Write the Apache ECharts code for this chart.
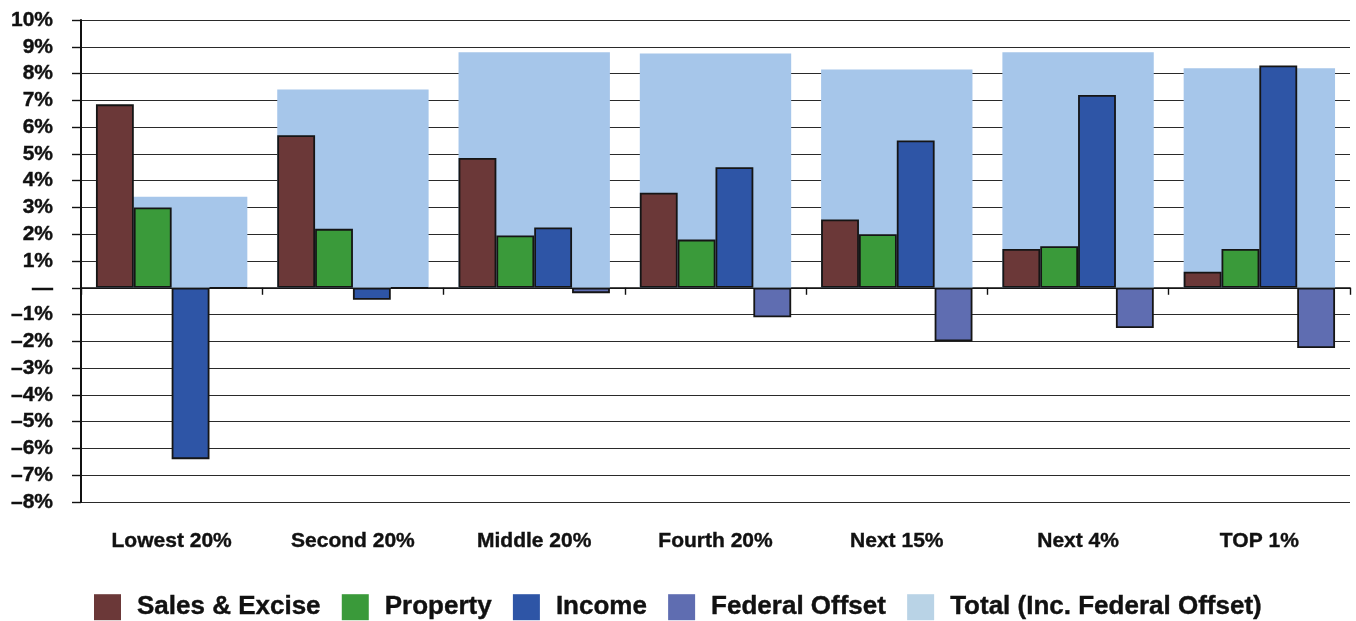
<!DOCTYPE html>
<html>
<head>
<meta charset="utf-8">
<script src="https://cdn.jsdelivr.net/npm/echarts@6/dist/echarts.min.js"></script>
<style>
html,body{margin:0;padding:0;background:#fff;}
#chart{width:1356px;height:621px;}
</style>
</head>
<body>
<div id="chart"></div>
<script>
const categories = ['Lowest 20%','Second 20%','Middle 20%','Fourth 20%','Next 15%','Next 4%','TOP 1%'];
const salesExcise = [6.85, 5.7, 4.85, 3.55, 2.55, 1.45, 0.6];
const property = [3.0, 2.2, 1.95, 1.8, 2.0, 1.55, 1.45];
const income = [-6.4, -0.45, 2.25, 4.5, 5.5, 7.2, 8.3];
const federalOffset = [0, 0, -0.2, -1.1, -2.0, -1.5, -2.25];
const totalIncFederal = [3.4, 7.4, 8.8, 8.75, 8.15, 8.8, 8.2];
const yTickLabels = ['–8%','–7%','–6%','–5%','–4%','–3%','–2%','–1%','—','1%','2%','3%','4%','5%','6%','7%','8%','9%','10%'];
const yMin = -8, yMax = 10;

const FONT = "'Liberation Sans', Arial, sans-serif";
const chart = echarts.init(document.getElementById('chart'), null, {renderer:'canvas'});
const gap = '16.5%';
const border = {borderColor:'#151515', borderWidth:1.8};
const boldText = {fontFamily:FONT, fontWeight:'bold', color:'#111', textBorderColor:'#111', textBorderWidth:0.4};

chart.setOption({
  animation:false,
  backgroundColor:'#fff',
  grid:{left:81, right:6, top:20, bottom:119, containLabel:false},
  legend:{
    left:89, top:589, itemWidth:27, itemHeight:26, itemGap:21,
    icon:'rect',
    itemStyle:{borderWidth:0},
    textStyle:Object.assign({fontSize:26, padding:[0,0,0,11]}, boldText),
    data:['Sales & Excise','Property','Income','Federal Offset',
      {name:'Total (Inc. Federal Offset)', itemStyle:{color:'#b9d3e6', borderWidth:0}}]
  },
  xAxis:[
    {type:'category', data:categories, position:'bottom',
     axisLine:{onZero:true, lineStyle:{color:'#111', width:1.6}},
     axisTick:{show:true, length:7, lineStyle:{color:'#111', width:1.4}},
     axisLabel:{show:false}, splitLine:{show:false}},
    {type:'category', data:categories, show:false},
    {type:'category', data:categories, position:'bottom',
     axisLine:{show:false, onZero:false}, axisTick:{show:false},
     axisLabel:Object.assign({fontSize:21, margin:29}, boldText)}
  ],
  yAxis:{
    type:'value', min:yMin, max:yMax, interval:1,
    axisLine:{show:true, lineStyle:{color:'#111', width:2}},
    axisTick:{show:true, length:9, lineStyle:{color:'#111', width:1.4}},
    splitLine:{show:true, lineStyle:{color:'#2a2a2a', width:1.2}},
    axisLabel:Object.assign({fontSize:21, margin:28,
      formatter:(v)=>yTickLabels[Math.round(v - yMin)]}, boldText)
  },
  series:[
    {name:'Total (Inc. Federal Offset)', type:'bar', xAxisIndex:1, data:totalIncFederal,
     barCategoryGap:gap, z:1, itemStyle:{color:'#a6c6ea'}},
    {name:'Sales & Excise', type:'bar', xAxisIndex:0, data:salesExcise, barGap:'0%', barCategoryGap:gap, z:3,
     itemStyle:Object.assign({color:'#6b3838'}, border)},
    {name:'Property', type:'bar', xAxisIndex:0, data:property, barGap:'0%', barCategoryGap:gap, z:3,
     itemStyle:Object.assign({color:'#3a9a3a'}, border)},
    {name:'Income', type:'bar', xAxisIndex:0, data:income, barGap:'0%', barCategoryGap:gap, z:3,
     itemStyle:Object.assign({color:'#2e55a6'}, border)},
    {name:'Federal Offset', type:'bar', xAxisIndex:0, data:federalOffset, barGap:'0%', barCategoryGap:gap, z:3,
     itemStyle:Object.assign({color:'#5f6db1'}, border)}
  ]
});
</script>
</body>
</html>
